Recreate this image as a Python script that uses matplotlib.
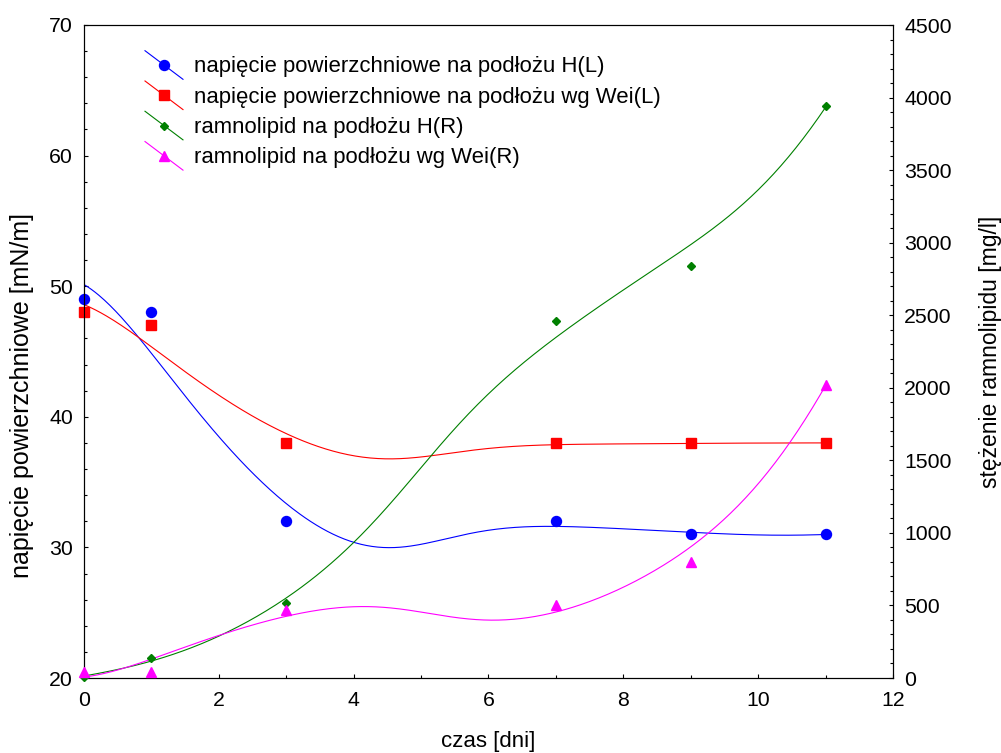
import numpy as np
import matplotlib
matplotlib.use("Agg")
import matplotlib.pyplot as plt
from matplotlib.lines import Line2D
from matplotlib.legend_handler import HandlerBase
from matplotlib.ticker import MultipleLocator

plt.rcParams['font.family'] = ['Liberation Sans', 'DejaVu Sans']
plt.rcParams['font.size'] = 15.3

# pomiary
dni = [0, 1, 3, 7, 9, 11]
napiecie_H = [49, 48, 32, 32, 31, 31]
napiecie_Wei = [48, 47, 38, 38, 38, 38]
ramnolipid_H = [5, 140, 520, 2460, 2840, 3940]
ramnolipid_Wei = [38, 42, 470, 505, 800, 2020]

etykiety = ["napięcie powierzchniowe na podłożu H(L)",
            "napięcie powierzchniowe na podłożu wg Wei(L)",
            "ramnolipid na podłożu H(R)",
            "ramnolipid na podłożu wg Wei(R)"]


def wygladz(x, y, xs, szer=3.0):
    # lokalna regresja kwadratowa z wagami gaussowskimi (wazone najmniejsze kwadraty)
    x = np.asarray(x, float)
    y = np.asarray(y, float)
    out = np.empty(len(xs))
    for k, x0 in enumerate(xs):
        w = np.exp(-((x - x0) / szer) ** 2)
        X = np.column_stack([np.ones_like(x), x - x0, (x - x0) ** 2])
        A = X.T @ (w[:, None] * X)
        b = X.T @ (w * y)
        out[k] = np.linalg.solve(A, b)[0]
    return out


class UkosnyUchwyt(HandlerBase):
    # ukosna linia z markerem posrodku
    def create_artists(self, legend, orig, xdescent, ydescent, width, height,
                       fontsize, trans):
        x0, x1 = -xdescent, -xdescent + width
        y0, y1 = -ydescent + height * 1.4, -ydescent - height * 0.45
        ln = Line2D([x0, x1], [y0, y1], color=orig.get_color(),
                    lw=orig.get_linewidth(), transform=trans)
        mk = Line2D([(x0 + x1) / 2], [(y0 + y1) / 2], linestyle='none',
                    marker=orig.get_marker(), markersize=orig.get_markersize(),
                    color=orig.get_color(), transform=trans)
        return [ln, mk]


fig = plt.figure(figsize=(10.01, 7.53), dpi=100)
ax = fig.add_axes([84 / 1001, 75 / 753, 809 / 1001, 653 / 753])
ax2 = ax.twinx()

xs = np.linspace(0, 11, 400)
serie = [
    (ax, napiecie_H, 'blue', 'o', 7.2),
    (ax, napiecie_Wei, 'red', 's', 7.5),
    (ax2, ramnolipid_H, 'green', 'D', 3.8),
    (ax2, ramnolipid_Wei, 'magenta', '^', 6.5),
]
uchwyty = []
for os_, wart, kol, mark, ms in serie:
    os_.plot(xs, wygladz(dni, wart, xs), color=kol, lw=0.8)
    os_.plot(dni, wart, linestyle='none', marker=mark, markersize=ms,
             color=kol, clip_on=False, zorder=3)
    uchwyty.append(Line2D([], [], color=kol, lw=0.8, marker=mark,
                          markersize=ms))

ax.set_xlim(0, 12)
ax.set_ylim(20, 70)
ax2.set_ylim(0, 4500)
ax.xaxis.set_major_locator(MultipleLocator(2))
ax.xaxis.set_minor_locator(MultipleLocator(1))
ax.yaxis.set_major_locator(MultipleLocator(10))
ax.yaxis.set_minor_locator(MultipleLocator(2))
ax2.yaxis.set_major_locator(MultipleLocator(500))
ax2.yaxis.set_minor_locator(MultipleLocator(100))

for a in (ax, ax2):
    a.tick_params(which='both', direction='in', width=0.8)
    a.tick_params(which='major', length=3)
    a.tick_params(which='minor', length=2)
    for s in a.spines.values():
        s.set_linewidth(0.8)
ax.tick_params(axis='y', pad=8)
ax.tick_params(axis='x', pad=9)
ax2.tick_params(axis='y', pad=8)

ax.set_xlabel("czas [dni]", fontsize=16)
ax.xaxis.set_label_coords(0.5, -0.081)
ax.set_ylabel("napięcie powierzchniowe [mN/m]", fontsize=18)
ax.yaxis.set_label_coords(-0.062, 0.433)
ax2.set_ylabel("stężenie ramnolipidu [mg/l]", fontsize=16.5)
ax2.yaxis.set_label_coords(1.106, 0.5)

ax2.legend(uchwyty, etykiety, loc='upper left',
           bbox_to_anchor=(0.0754, 0.952), frameon=False, borderpad=0,
           borderaxespad=0, handlelength=1.72, handletextpad=0.52,
           labelspacing=0.42, fontsize=15.9,
           handler_map={Line2D: UkosnyUchwyt()})

fig.savefig("out.png", dpi=100)
